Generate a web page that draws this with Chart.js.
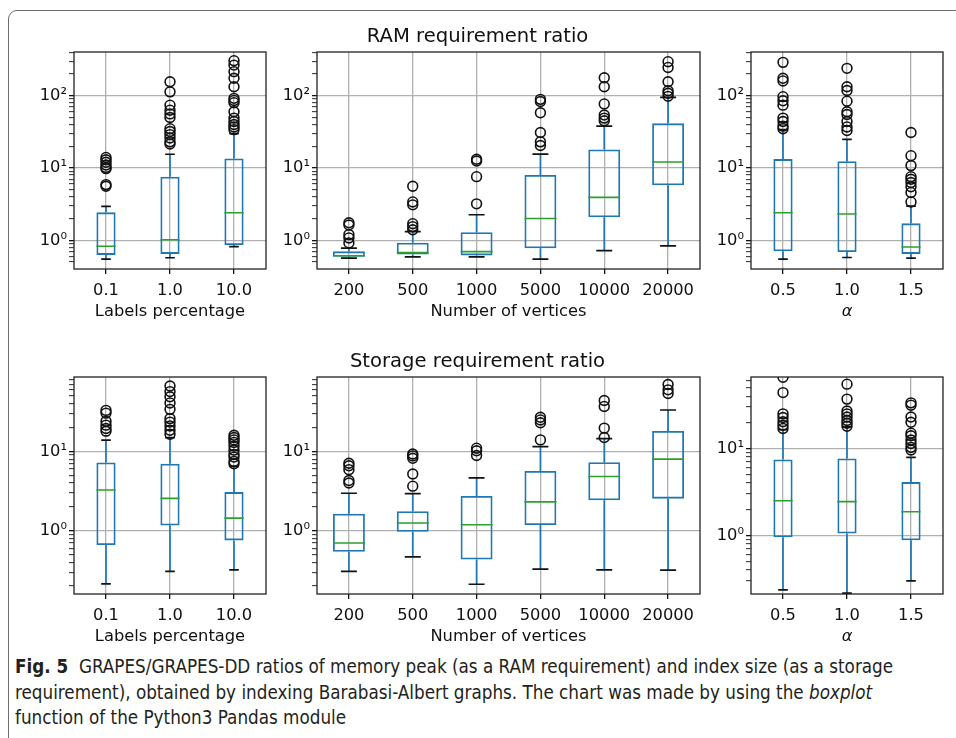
<!DOCTYPE html>
<html lang="en">
<head>
  <meta charset="UTF-8" />
  <title>GRAPES memory ratios</title>
  <script src="https://cdn.jsdelivr.net/npm/chart.js"></script>
  <style>
    body {
      margin: 0;
      background: #fff;
      width: 956px;
      height: 738px;
      overflow: hidden;
      position: relative;
    }
    .frame {
      position: absolute;
      left: 8px;
      top: 10px;
      width: 990px;
      height: 760px;
      border: 1.3px solid #6e6e6e;
      border-radius: 9px;
    }
    canvas { position: absolute; }
    .caption {
      position: absolute;
      left: 15px;
      top: 654px;
      font-family: 'Liberation Sans Narrow', 'DejaVu Sans Condensed', sans-serif;
      font-size: 18.7px;
      line-height: 25.5px;
      color: #231f20;
      white-space: nowrap;
    }
  </style>
</head>
<body>
  <div class="frame"></div>
  <canvas id="ramPct"></canvas>
  <canvas id="ramVtx"></canvas>
  <canvas id="ramAlpha"></canvas>
  <canvas id="stoPct"></canvas>
  <canvas id="stoVtx"></canvas>
  <canvas id="stoAlpha"></canvas>
  <div class="caption"><b>Fig. 5</b>&nbsp; GRAPES/GRAPES-DD ratios of memory peak (as a RAM requirement) and index size (as a storage<br>requirement), obtained by indexing Barabasi-Albert graphs. The chart was made by using the <i>boxplot</i><br>function of the Python3 Pandas module</div>

  <script>
    // categories
    const pctLabels = ['0.1', '1.0', '10.0'];
    const vtxLabels = ['200', '500', '1000', '5000', '10000', '20000'];
    const alphaLabels = ['0.5', '1.0', '1.5'];

    // y tick labels (log axes)
    const yTickValues = [0.1, 1, 10, 100];
    const yTickLabels = ['10⁻¹', '10⁰', '10¹', '10²'];

    // axis limits
    const ramRange = [0.402, 402];
    const stoRange = [0.159, 87.1];
    const stoAlphaRange = [0.211, 66.5];

    // RAM requirement ratio - labels percentage
    const ramPctLow = [0.55, 0.575, 0.82];
    const ramPctQ1 = [0.63, 0.65, 0.86];
    const ramPctMed = [0.83, 1.02, 2.41];
    const ramPctQ3 = [2.44, 7.6, 13.6];
    const ramPctHigh = [2.95, 15.5, 30];
    const ramPctOut = [
      [14, 13, 12, 11, 10.2, 9.8, 5.9, 5.6],
      [156, 113, 74, 63, 56, 50, 35, 32, 29, 26, 23, 21.5],
      [305, 265, 215, 174, 133, 92, 86, 80, 60, 49, 44, 40, 37, 34]
    ];

    // RAM requirement ratio - number of vertices
    const ramVtxLow = [0.57, 0.59, 0.59, 0.55, 0.72, 0.84];
    const ramVtxQ1 = [0.594, 0.64, 0.62, 0.78, 2.08, 5.76];
    const ramVtxMed = [0.614, 0.68, 0.70, 2.01, 3.93, 12.1];
    const ramVtxQ3 = [0.705, 0.93, 1.30, 8.0, 18.1, 41.5];
    const ramVtxHigh = [0.78, 1.32, 2.26, 15.6, 38, 95];
    const ramVtxOut = [
      [1.75, 1.63, 1.2, 1.08, 0.92],
      [5.6, 3.4, 3.1, 1.7, 1.55, 1.4],
      [13.2, 12.5, 7.6, 3.2],
      [89, 83, 58, 31, 23, 20.5],
      [177, 133, 77, 54, 49, 45],
      [295, 246, 156, 117, 108, 98]
    ];

    // RAM requirement ratio - alpha
    const ramAlphaLow = [0.55, 0.58, 0.57];
    const ramAlphaQ1 = [0.705, 0.69, 0.65];
    const ramAlphaMed = [2.41, 2.31, 0.81];
    const ramAlphaQ3 = [13.3, 12.4, 1.72];
    const ramAlphaHigh = [34, 24.9, 2.98];
    const ramAlphaOut = [
      [289, 174, 160, 97, 85, 74, 49, 44, 38, 35],
      [239, 133, 118, 84, 60, 55, 44, 37, 33],
      [31, 14.8, 10.8, 7.6, 7, 6.3, 5.5, 4.6, 3.4]
    ];

    // Storage requirement ratio - labels percentage
    const stoPctLow = [0.213, 0.307, 0.32];
    const stoPctQ1 = [0.66, 1.16, 0.755];
    const stoPctMed = [3.26, 2.56, 1.44];
    const stoPctQ3 = [7.27, 7.0, 3.07];
    const stoPctHigh = [13.9, 15, 6.5];
    const stoPctOut = [
      [33, 30.5, 24, 21.5, 19.5, 18],
      [67, 57, 49, 41, 34, 26, 23.5, 21, 18.5, 16.5],
      [16, 15, 14, 13, 11.7, 10.4, 9.2, 8.5, 7.5, 7]
    ];

    // Storage requirement ratio - number of vertices
    const stoVtxLow = [0.306, 0.469, 0.211, 0.327, 0.321, 0.318];
    const stoVtxQ1 = [0.542, 0.97, 0.434, 1.18, 2.42, 2.54];
    const stoVtxMed = [0.70, 1.25, 1.19, 2.31, 4.83, 8.0];
    const stoVtxQ3 = [1.64, 1.76, 2.75, 5.69, 7.33, 18.1];
    const stoVtxHigh = [2.97, 2.94, 4.64, 11.5, 14.5, 33.4];
    const stoVtxOut = [
      [7.1, 6.6, 5.9, 4.3, 4.0],
      [9.3, 8.8, 8.2, 5.2, 3.65],
      [11, 10.2, 8.9],
      [27, 25, 23, 14],
      [44, 37, 19.7, 15],
      [70, 60, 54]
    ];

    // Storage requirement ratio - alpha
    const stoAlphaLow = [0.235, 0.216, 0.299];
    const stoAlphaQ1 = [0.948, 1.05, 0.877];
    const stoAlphaMed = [2.5, 2.44, 1.87];
    const stoAlphaQ3 = [7.48, 7.67, 4.1];
    const stoAlphaHigh = [16.5, 17.7, 7.88];
    const stoAlphaOut = [
      [66, 44, 25, 22.7, 20.3, 18.5, 17],
      [55, 37, 27, 25, 23, 21, 19.5, 18],
      [33.5, 31.5, 23, 20, 15, 14, 12.5, 11.4, 10.3, 9.6]
    ];

    const BLUE = '#1f77b4', GREEN = '#2ca02c', GRID = '#b0b0b0', INK = '#111';
    const FAMILY = "'DejaVu Sans', sans-serif";
    const YAXIS_W = 62, XAXIS_H = 58, PAD_R = 10, PAD_T = 8, TITLE_H = 29;

    function logTicks(min, max) {
      const out = [];
      for (let e = Math.floor(Math.log10(min)); e <= Math.floor(Math.log10(max)); e++) {
        for (let m = 1; m <= 9; m++) {
          const v = +(m * Math.pow(10, e)).toPrecision(6);
          if (v >= min && v <= max) out.push({ value: v, major: m === 1 });
        }
      }
      return out;
    }
    const isDecade = v => yTickValues.includes(v);

    function boxParts(s, frac) {
      return {
        id: 'boxParts',
        beforeDatasetsDraw(chart) {
          const { ctx, chartArea: a, scales: { x, y } } = chart;
          const half = x.width / s.labels.length * frac / 4;
          ctx.save();
          ctx.beginPath();
          ctx.rect(a.left, a.top, a.width, a.height);
          ctx.clip();
          ctx.lineWidth = 1.7;
          s.low.forEach((lo, i) => {
            const px = x.getPixelForValue(i);
            ctx.strokeStyle = BLUE;
            ctx.beginPath();
            ctx.moveTo(px, y.getPixelForValue(lo));
            ctx.lineTo(px, y.getPixelForValue(s.q1[i]));
            ctx.moveTo(px, y.getPixelForValue(s.q3[i]));
            ctx.lineTo(px, y.getPixelForValue(s.high[i]));
            ctx.stroke();
            ctx.strokeStyle = INK;
            ctx.beginPath();
            [lo, s.high[i]].forEach(v => {
              const py = y.getPixelForValue(v);
              ctx.moveTo(px - half, py);
              ctx.lineTo(px + half, py);
            });
            ctx.stroke();
          });
          ctx.restore();
        },
        afterDatasetsDraw(chart) {
          const { ctx, chartArea: a, scales: { x, y } } = chart;
          const half = x.width / s.labels.length * frac / 2;
          ctx.save();
          ctx.strokeStyle = GREEN;
          ctx.lineWidth = 1.6;
          ctx.beginPath();
          s.med.forEach((m, i) => {
            const px = x.getPixelForValue(i), py = y.getPixelForValue(m);
            ctx.moveTo(px - half, py);
            ctx.lineTo(px + half, py);
          });
          ctx.stroke();
          // axes frame
          ctx.strokeStyle = '#222';
          ctx.lineWidth = 1.3;
          ctx.strokeRect(a.left, a.top, a.width, a.height);
          ctx.restore();
        }
      };
    }

    function boxChart(id, rect, s, range, xTitle, frac, title) {
      const [x0, y0, x1, y1] = rect;
      const top = title ? TITLE_H : PAD_T;
      const cv = document.getElementById(id);
      cv.width = x1 - x0 + YAXIS_W + PAD_R;
      cv.height = y1 - y0 + top + XAXIS_H;
      cv.style.left = (x0 - YAXIS_W) + 'px';
      cv.style.top = (y0 - top) + 'px';

      const fliers = [];
      s.out.forEach((vals, i) => vals.forEach(v => fliers.push({ x: s.labels[i], y: v })));

      new Chart(cv, {
        type: 'bar',
        data: {
          labels: s.labels,
          datasets: [
            {
              type: 'bar',
              data: s.labels.map((_, i) => [s.q1[i], s.q3[i]]),
              backgroundColor: 'transparent',
              borderColor: BLUE,
              borderWidth: 1.8,
              borderSkipped: false,
              barPercentage: frac,
              categoryPercentage: 1,
              grouped: false,
              order: 2
            },
            {
              type: 'line',
              data: fliers,
              showLine: false,
              pointStyle: 'circle',
              pointRadius: 4.9,
              pointBorderWidth: 1.6,
              pointBorderColor: INK,
              pointBackgroundColor: 'transparent',
              clip: 0,
              order: 1
            }
          ]
        },
        options: {
          responsive: false,
          animation: false,
          devicePixelRatio: 1,
          layout: { padding: { top: title ? 0 : PAD_T, right: PAD_R, left: 0, bottom: 0 } },
          plugins: {
            legend: { display: false },
            tooltip: { enabled: false },
            title: {
              display: !!title,
              text: title || '',
              color: INK,
              font: { family: FAMILY, size: 19.6, weight: 'normal' },
              padding: { top: 2, bottom: TITLE_H - 19.6 * 1.2 - 2 }
            }
          },
          scales: {
            x: {
              type: 'category',
              offset: true,
              border: { display: false },
              grid: { offset: false, color: GRID, lineWidth: 1.3, tickColor: INK, tickLength: 5 },
              ticks: { color: INK, font: { family: FAMILY, size: 16.3 }, padding: 7, maxRotation: 0, autoSkip: false },
              title: {
                display: true,
                text: xTitle,
                color: INK,
                font: { family: FAMILY, size: 16.3, style: xTitle === 'α' ? 'italic' : 'normal' },
                padding: { top: 0, bottom: 5.5 }
              },
              afterFit(scale) {
                scale.height = XAXIS_H;
                scale.paddingLeft = 0;
                scale.paddingRight = 0;
              }
            },
            y: {
              type: 'logarithmic',
              min: range[0],
              max: range[1],
              border: { display: false },
              afterBuildTicks(scale) { scale.ticks = logTicks(range[0], range[1]); },
              afterFit(scale) {
                scale.width = YAXIS_W;
                scale.paddingTop = 0;
                scale.paddingBottom = 0;
              },
              grid: {
                color: c => isDecade(c.tick.value) ? GRID : 'transparent',
                lineWidth: 1.3,
                tickColor: INK,
                tickWidth: c => isDecade(c.tick.value) ? 1.3 : 0.9,
                tickLength: 5
              },
              ticks: {
                autoSkip: false,
                color: INK,
                padding: 2,
                font: { family: FAMILY, size: 16.3 },
                callback: v => {
                  const k = yTickValues.indexOf(v);
                  return k < 0 ? '' : yTickLabels[k];
                }
              }
            }
          }
        },
        plugins: [boxParts(s, frac)]
      });
    }

    const stats = (labels, low, q1, med, q3, high, out) => ({ labels, low, q1, med, q3, high, out });

    boxChart('ramPct', [74, 52, 266, 269],
      stats(pctLabels, ramPctLow, ramPctQ1, ramPctMed, ramPctQ3, ramPctHigh, ramPctOut),
      ramRange, 'Labels percentage', 0.3);
    boxChart('ramVtx', [317, 52, 700, 269],
      stats(vtxLabels, ramVtxLow, ramVtxQ1, ramVtxMed, ramVtxQ3, ramVtxHigh, ramVtxOut),
      ramRange, 'Number of vertices', 0.5, 'RAM requirement ratio');
    boxChart('ramAlpha', [751, 52, 943, 269],
      stats(alphaLabels, ramAlphaLow, ramAlphaQ1, ramAlphaMed, ramAlphaQ3, ramAlphaHigh, ramAlphaOut),
      ramRange, 'α', 0.3);
    boxChart('stoPct', [74, 377, 266, 594],
      stats(pctLabels, stoPctLow, stoPctQ1, stoPctMed, stoPctQ3, stoPctHigh, stoPctOut),
      stoRange, 'Labels percentage', 0.3);
    boxChart('stoVtx', [317, 377, 700, 594],
      stats(vtxLabels, stoVtxLow, stoVtxQ1, stoVtxMed, stoVtxQ3, stoVtxHigh, stoVtxOut),
      stoRange, 'Number of vertices', 0.5, 'Storage requirement ratio');
    boxChart('stoAlpha', [751, 377, 943, 594],
      stats(alphaLabels, stoAlphaLow, stoAlphaQ1, stoAlphaMed, stoAlphaQ3, stoAlphaHigh, stoAlphaOut),
      stoAlphaRange, 'α', 0.3);
  </script>
</body>
</html>
